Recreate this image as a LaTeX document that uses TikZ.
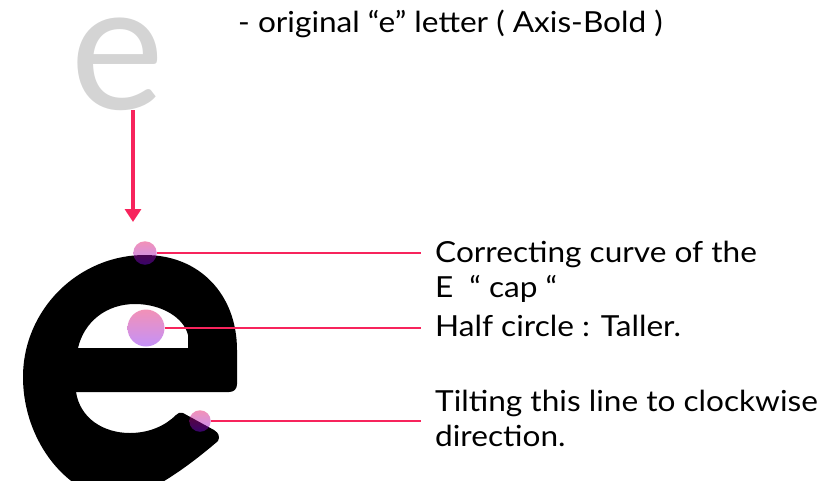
\documentclass[tikz,border=0pt]{standalone}
\usepackage{fontspec}
\setmainfont{Lato}[FakeStretch=1.09]
\newfontfamily\ghostfont{Lato}
\usepackage{tikz}
\usetikzlibrary{arrows.meta}
\usetikzlibrary{positioning}
\definecolor{leadred}{RGB}{247,36,92}
\definecolor{ghost}{RGB}{212,212,212}
\definecolor{dottop}{RGB}{226,10,95}
\definecolor{dotbot}{RGB}{124,10,240}

\begin{document}
\begin{tikzpicture}[x=1pt,y=-1pt,
  dot/.style={circle,inner sep=0pt,top color=dottop,bottom color=dotbot,opacity=0.45},
  lead/.style={leadred,line width=2.6pt,shorten >=14pt},
  pointer/.style={leadred,line width=4.5pt,-{Triangle[width=16pt,length=13pt]}},
  lbl/.style={anchor=base west,inner sep=0pt,align=left,font=\fontsize{29}{35}\selectfont}]
\useasboundingbox (0,0) rectangle (834,480);

% original letter
\node[anchor=base west,inner sep=4pt,text=ghost,font=\ghostfont\fontsize{178}{178}\selectfont] (eOld) at (66,109) {e};
\node[lbl] (note) at (238,32) {- original “e” letter ( Axis-Bold )};
\coordinate (arrowTop) at (133,110);
\coordinate (arrowTip) at (133,222);
\draw[pointer] (arrowTop) -- (arrowTip);

% reworked letter
\fill[even odd rule]
  (23,377) .. controls (23,310) and (78,255) .. (145,255)
  .. controls (200,255) and (237,295) .. (237,350)
  -- (237,384) .. controls (237,389) and (234,392) .. (229,392)
  -- (76,392)
  .. controls (80,418) and (103,433) .. (130,433)
  .. controls (150,433) and (166,425) .. (176,415)
  .. controls (178,413) and (180,412) .. (183,413)
  -- (214,430) .. controls (219,433) and (220,437) .. (218,441)
  .. controls (190,465) and (150,495) .. (120,499)
  .. controls (70,499) and (23,443) .. (23,377) -- cycle
  (78,348) .. controls (84,322) and (106,304) .. (135,304)
  .. controls (162,304) and (184,318) .. (188,335) -- (188,348) -- cycle;

\node[dot,minimum size=23.5pt] (dotCap) at (145,253) {};
\node[dot,minimum size=37pt] (dotHalf) at (146,328) {};
\node[dot,minimum size=21.5pt] (dotTilt) at (200,421) {};

\node[lbl] (lblCap) at (435,297) {Correcting curve of the\\E\hspace{0.55em}“ cap “};
\node[lbl] (lblHalf) at (435,336) {Half circle : Taller.};
\node[lbl] (lblTilt) at (435,446) {Tilting this line to clockwise\\direction.};

\draw[lead] (dotCap.east) -- (dotCap.east -| lblCap.west);
\draw[lead] (dotHalf.east) -- (dotHalf.east -| lblHalf.west);
\draw[lead] (dotTilt.east) -- (dotTilt.east -| lblTilt.west);
\end{tikzpicture}
\end{document}
